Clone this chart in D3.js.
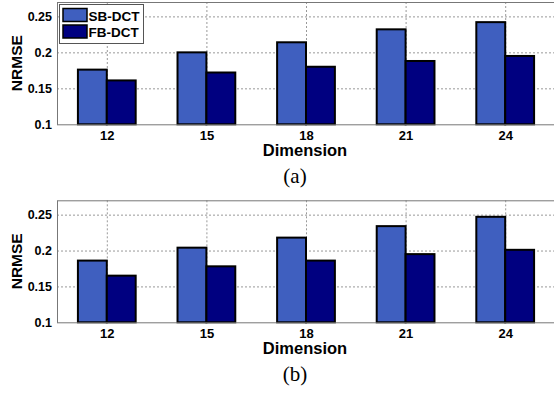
<!DOCTYPE html>
<meta charset="utf-8" />
<script src="https://d3js.org/d3.v7.min.js"></script>
<style>
  body { margin: 0; background: #fff; }
  .tick text, .lbl { font-family: "Liberation Sans", Arial, sans-serif; font-weight: bold; fill: #000; }
  .cap { font-family: "Liberation Serif", "Times New Roman", serif; fill: #000; }
  .grid { stroke: #999; stroke-width: 1; stroke-dasharray: 2,2; }
</style>
<div id="chart"></div>
<script>
  // data
  const dims = ["12", "15", "18", "21", "24"];
  const seriesNames = ["SB-DCT", "FB-DCT"];
  const sbA = [0.176, 0.2, 0.214, 0.232, 0.242];
  const fbA = [0.161, 0.172, 0.180, 0.188, 0.195];
  const sbB = [0.186, 0.204, 0.218, 0.234, 0.247];
  const fbB = [0.165, 0.178, 0.186, 0.195, 0.201];
  const yTicks = [0.1, 0.15, 0.2, 0.25];
  const colors = ["#3f5fbf", "#000080"];

  const W = 554, H = 394;
  const BAR_W = 0.29;

  var svg = d3.select("#chart").append("svg")
    .attr("width", W).attr("height", H);

  var x = d3.scaleLinear().domain([-0.5, 4.5]).range([57, 555]);

  function panel(top, bottom, sb, fb, caption, legend) {
    var y = d3.scaleLinear().domain([0.1, 0.27]).range([bottom, top]);
    var g = svg.append("g");

    // grid
    g.selectAll(".hg").data(yTicks.slice(1)).enter().append("line")
      .attr("class", "grid")
      .attr("x1", x(-0.5)).attr("x2", x(4.6))
      .attr("y1", d => y(d) + 0.5).attr("y2", d => y(d) + 0.5);
    g.selectAll(".vg").data(dims).enter().append("line")
      .attr("class", "grid")
      .attr("x1", (d, i) => x(i) + 0.5).attr("x2", (d, i) => x(i) + 0.5)
      .attr("y1", top).attr("y2", bottom);

    // frame
    g.append("line").attr("x1", x(-0.5)).attr("x2", W + 2)
      .attr("y1", top + 0.5).attr("y2", top + 0.5)
      .attr("stroke", "#777").attr("stroke-width", 1);

    // bars
    var rows = dims.map((d, i) => ({ i: i, v: [sb[i], fb[i]] }));
    rows.forEach(function (r) {
      r.v.forEach(function (v, k) {
        g.append("rect")
          .attr("x", x(r.i + (k - 1) * BAR_W))
          .attr("width", x(BAR_W) - x(0))
          .attr("y", y(v))
          .attr("height", y(0.1) - y(v))
          .attr("fill", colors[k])
          .attr("stroke", "#000")
          .attr("stroke-width", 2);
      });
    });

    // axes
    var ya = g.append("g").attr("transform", "translate(" + x(-0.5) + ",0)")
      .call(d3.axisLeft(y).tickValues(yTicks).tickSize(0).tickPadding(5)
        .tickFormat(d => String(+d.toFixed(2))));
    ya.select(".domain").attr("stroke", "#777");
    ya.selectAll(".tick text").style("font-size", "12.5px");

    var xa = g.append("g").attr("transform", "translate(0," + bottom + ")")
      .call(d3.axisBottom(x).tickValues(d3.range(dims.length)).tickSize(0).tickPadding(6)
        .tickFormat(i => dims[i]));
    xa.select(".domain").attr("stroke", "#777").attr("d", "M" + x(-0.5) + ",0.5H" + (W + 2));
    xa.selectAll(".tick text").style("font-size", "13px");

    g.append("text").attr("class", "lbl")
      .attr("transform", "translate(22," + (top + bottom) / 2 + ") rotate(-90)")
      .attr("text-anchor", "middle").style("font-size", "15.5px").text("NRMSE");
    g.append("text").attr("class", "lbl")
      .attr("x", 305).attr("y", bottom + 32)
      .attr("text-anchor", "middle").style("font-size", "16.5px").text("Dimension");
    g.append("text").attr("class", "cap")
      .attr("x", 295).attr("y", bottom + 59)
      .attr("text-anchor", "middle").style("font-size", "21px").text(caption);

    if (legend) {
      var lg = g.append("g");
      lg.append("rect").attr("x", 59.5).attr("y", 4.5).attr("width", 84).attr("height", 39)
        .attr("fill", "#fff").attr("stroke", "#555").attr("stroke-width", 1);
      seriesNames.forEach(function (n, k) {
        lg.append("rect").attr("x", 63).attr("y", 8.5 + k * 16.5).attr("width", 24).attr("height", 13)
          .attr("fill", colors[k]).attr("stroke", "#000").attr("stroke-width", 1.5);
        lg.append("text").attr("class", "lbl").attr("x", 88.5).attr("y", 20.5 + k * 16.5)
          .style("font-size", "13.5px").text(n);
      });
    }
  }

  panel(2, 124.3, sbA, fbA, "(a)", true);
  panel(200.3, 322.3, sbB, fbB, "(b)", false);
</script>
